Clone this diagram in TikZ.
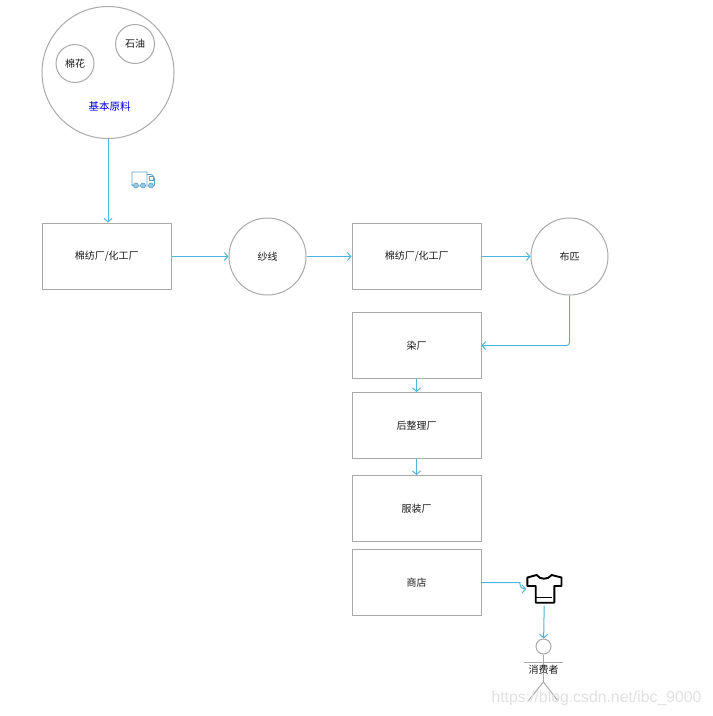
\documentclass[tikz,border=0pt]{standalone}
\usepackage{fontspec}
\setmainfont{Noto Sans CJK SC}
\newfontfamily\markfont{Liberation Sans}
\usepackage{xcolor}
\usetikzlibrary{arrows.meta}
\definecolor{flowc}{HTML}{4DB5DA}
\definecolor{linec}{HTML}{A9A9A9}
\definecolor{truckc}{HTML}{5AA2CC}
\tikzset{
  fac/.style={draw=linec,line width=1pt,minimum width=129pt,minimum height=66pt,inner sep=0pt,font=\fontsize{10}{12}\selectfont,text=black!90},
  rnd/.style={circle,draw=linec,line width=1pt,inner sep=0pt,font=\fontsize{10}{12}\selectfont,text=black!90},
  flw/.style={draw=flowc,line width=1pt,-{Straight Barb[length=3.5pt,width=8pt]}},
  act/.style={draw=linec,line width=1pt},
  shirt/.style={line width=1.9pt,line join=round,black}
}
\begin{document}
\begin{tikzpicture}[x=1pt,y=-1pt]
\useasboundingbox (0,0) rectangle (713,716);
% raw materials
\node[rnd,minimum size=132pt] (raw) at (108,72.5) {};
\node[rnd,minimum size=38pt] (cotton) at (75,63.5) {棉花};
\node[rnd,minimum size=39pt] (oil) at (135,44) {石油};
\node[font=\fontsize{10.5}{12}\selectfont,text=blue!85!black] (rawlbl) at (109.5,106.5) {基本原料};
% truck
\draw[truckc,line width=0.9pt,rounded corners=0.5pt] (132,185) -- (132,172) -- (147,172) -- (147,185);
\draw[truckc,line width=0.9pt,rounded corners=1pt] (147,174.5) -- (152,174.5) -- (154.5,178) -- (154.5,186) -- (132,186) -- (132,184);
\draw[truckc,line width=0.6pt] (149,176.5) rectangle (153,180);
\foreach \wx in {136,143,151} {\draw[truckc,fill=truckc!60,line width=0.6pt] (\wx,185.5) circle (2.5pt);}
% process chain
\node[fac] (mill1) at (106.5,256) {\hspace{0.5pt}棉纺厂/化工厂};
\node[rnd,minimum size=77pt] (yarn) at (267.5,256.5) {纱线};
\node[fac] (mill2) at (416.5,256) {\hspace{0.5pt}棉纺厂/化工厂};
\node[rnd,minimum size=77pt] (cloth) at (569.5,256.5) {布匹};
\node[fac] (dye) at (416.5,345.5) {染厂};
\node[fac] (finish) at (416.5,425.5) {后整理厂};
\node[fac] (garment) at (416.5,508.5) {服装厂};
\node[fac] (shop) at (416.5,582.5) {商店};
% t-shirt
\node[minimum width=36pt,minimum height=33pt,inner sep=0pt] (tee) at (544.5,589) {};
\draw[shirt] (536.7,575) .. controls (540,580) and (548,580) .. (551.7,575) -- (561.5,577.5) -- (561.5,586) -- (554.3,586) -- (554.3,602.7) -- (535.7,602.7) -- (535.7,586) -- (527.3,586) -- (527.3,577.5) -- cycle;
\draw[shirt,line width=1.3pt] (535.7,597.7) -- (552,597.7);
% consumer
\node[circle,act,minimum size=15pt,inner sep=0pt] (head) at (543.5,646.5) {};
\coordinate (armL) at (524,662); \coordinate (armR) at (563,662);
\coordinate (hip) at (543.5,682); \coordinate (legL) at (528,701); \coordinate (legR) at (558,701);
\draw[act] (head) -- (hip); \draw[act] (armL) -- (armR);
\draw[act] (legL) -- (hip) -- (legR);
\node[inner sep=0.5pt,font=\fontsize{10}{12}\selectfont,text=black!90] (buyer) at (543.5,669.5) {消费者};
% flows
\draw[flw] (raw) -- (raw.south |- mill1.north);
\draw[flw] (mill1.east |- yarn) -- (yarn);
\draw[flw] (yarn) -- (mill2.west |- yarn);
\draw[flw] (mill2.east |- cloth) -- (cloth);
\draw[flw,rounded corners=3pt] (cloth) |- (dye);
\draw[flw] (dye) -- (finish);
\draw[flw] (finish) -- (garment);
\draw[flw,rounded corners=3pt] (shop.east) -- (517,582.5) .. controls (520,582.5) and (519,589) .. (tee.west);
\draw[flw] (tee) -- (head);
\node[font=\markfont\fontsize{15.8}{18}\selectfont,text=black!12,anchor=east] (wmark) at (705,698) {https://blog.csdn.net/ibc\_9000};
\end{tikzpicture}
\end{document}
